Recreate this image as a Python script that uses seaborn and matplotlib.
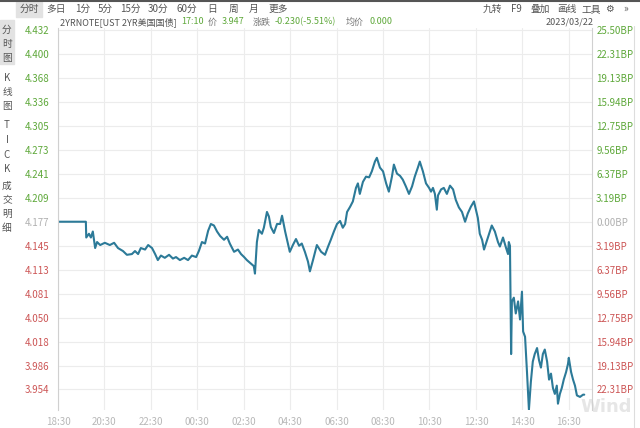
import numpy as np
import pandas as pd
import matplotlib
matplotlib.use("Agg")
import matplotlib.pyplot as plt
import seaborn as sns

# ---------------- data ----------------
times = ["18:30","19:42","19:43","19:50","19:55","20:00","20:06","20:11","20:19","20:31",
         "20:44","20:55","21:05","21:18","21:28","21:41","21:49","21:57","22:04","22:15",
         "22:23","22:33","22:41","22:48","22:56","23:06","23:17","23:27","23:35","23:45",
         "23:56","00:06","00:16","00:27","00:34","00:42","00:50","00:58","01:05","01:13",
         "01:21","01:29","01:39","01:47","01:54","02:05","02:15","02:23","02:31","02:38",
         "02:49","02:56","02:59","03:04","03:09","03:17","03:22","03:30","03:35","03:40",
         "03:48","03:56","04:04","04:09","04:17","04:22","04:29","04:37","04:45","04:53",
         "05:00","05:08","05:16","05:21","05:29","05:39","05:50","06:00","06:08","06:15",
         "06:23","06:31","06:39","06:46","06:52","06:57","07:05","07:12","07:20","07:25",
         "07:30","07:38","07:46","07:54","08:01","08:09","08:14","08:22","08:30","08:38",
         "08:45","08:53","08:58","09:06","09:14","09:21","09:29","09:37","09:45","09:52",
         "10:00","10:05","10:13","10:21","10:29","10:34","10:39","10:44","10:49","10:52",
         "11:00","11:07","11:15","11:23","11:31","11:38","11:46","11:54","12:02","12:09",
         "12:17","12:25","12:30","12:35","12:40","12:46","12:51","12:59","13:06","13:11",
         "13:19","13:27","13:32","13:40","13:48","13:53","13:55","13:58","14:01","14:03",
         "14:08","14:13","14:19","14:24","14:29","14:32","14:37","14:42","14:47","14:52",
         "14:57","15:02","15:08","15:13","15:18","15:23","15:28","15:34","15:39","15:44",
         "15:49","15:54","15:59","16:02","16:07","16:12","16:17","16:23","16:28","16:30",
         "16:36","16:41","16:46","16:51","16:59","17:07","17:10"]
prices = [4.177,4.177,4.156,4.161,4.156,4.164,4.142,4.150,4.146,4.149,
          4.146,4.149,4.142,4.138,4.133,4.134,4.138,4.134,4.142,4.140,
          4.146,4.142,4.134,4.126,4.132,4.129,4.133,4.128,4.130,4.126,
          4.129,4.126,4.132,4.130,4.138,4.150,4.148,4.165,4.174,4.172,
          4.164,4.158,4.153,4.157,4.148,4.137,4.140,4.134,4.130,4.126,
          4.121,4.118,4.108,4.150,4.166,4.161,4.169,4.190,4.184,4.170,
          4.162,4.174,4.174,4.185,4.164,4.153,4.137,4.146,4.154,4.145,
          4.148,4.137,4.124,4.111,4.126,4.146,4.137,4.133,4.144,4.153,
          4.164,4.174,4.178,4.169,4.174,4.190,4.197,4.204,4.222,4.228,
          4.214,4.230,4.237,4.236,4.244,4.257,4.262,4.249,4.244,4.228,
          4.217,4.237,4.253,4.241,4.238,4.233,4.224,4.214,4.224,4.237,
          4.249,4.257,4.244,4.228,4.222,4.217,4.222,4.214,4.193,4.212,
          4.220,4.222,4.214,4.225,4.220,4.206,4.196,4.190,4.177,4.188,
          4.197,4.204,4.193,4.182,4.161,4.153,4.140,4.153,4.164,4.172,
          4.164,4.150,4.144,4.156,4.142,4.134,4.150,4.145,4.001,4.071,
          4.076,4.055,4.071,4.047,4.084,4.031,4.024,3.977,3.927,3.964,
          3.991,4.001,4.009,3.993,3.983,4.001,4.007,3.991,3.967,3.975,
          3.956,3.948,3.959,3.935,3.948,3.956,3.967,3.977,3.988,3.996,
          3.977,3.967,3.959,3.946,3.944,3.947,3.947]

left_ticks = ["4.432","4.400","4.368","4.336","4.305","4.273","4.241","4.209","4.177",
              "4.145","4.113","4.081","4.050","4.018","3.986","3.954"]
right_ticks = ["25.50BP","22.31BP","19.13BP","15.94BP","12.75BP","9.56BP","6.37BP","3.19BP",
               "0.00BP","3.19BP","6.37BP","9.56BP","12.75BP","15.94BP","19.13BP","22.31BP"]
x_labels = ["18:30","20:30","22:30","00:30","02:30","04:30","06:30","08:30",
            "10:30","12:30","14:30","16:30"]
prev_close = 4.177

# ---------------- helpers ----------------
def minutes_from_start(t):
    h, m = map(int, t.split(":"))
    return ((h * 60 + m) - (18 * 60 + 30)) % 1440

df = pd.DataFrame({"t": [minutes_from_start(t) for t in times], "price": prices})
step = (4.432 - prev_close) / 8.0
ytick_vals = [prev_close + step * k for k in range(8, -8, -1)]
xtick_vals = [minutes_from_start(t) for t in x_labels]

sns.set_theme(style="white")
plt.rcParams["font.family"] = ["Noto Sans CJK SC", "DejaVu Sans"]

GREEN = "#5ea83a"
RED = "#cc5555"
GRAY = "#b0b0b0"
LINE = "#2c7a98"

fig = plt.figure(figsize=(6.4, 4.28), dpi=100)
fig.patch.set_facecolor("white")
W, H = 640.0, 428.0
L, R, T, B = 58, 592, 28, 410
ax = fig.add_axes([L / W, 1 - B / H, (R - L) / W, (B - T) / H])
ax.set_facecolor("none")

sns.lineplot(data=df, x="t", y="price", ax=ax, color=LINE, linewidth=1.5,
             estimator=None, sort=False)

ax.set_xlim(0, 1380)
ymax = 4.432 + 2 * 0.00133
ymin = 4.432 - (B - T - 2) * 0.00133
ax.set_ylim(ymin, ymax)

ax.set_yticks(ytick_vals)
ax.set_yticklabels(left_ticks)
ax.set_xticks(xtick_vals)
ax.set_xticklabels(x_labels)
ax.set_xlabel("")
ax.set_ylabel("")
ax.grid(True, color="#ececec", linewidth=0.8)
ax.tick_params(axis="both", length=0, labelsize=7, pad=6)
ax.tick_params(axis="x", colors="#b8b8b8", pad=5)
for lab, v in zip(ax.get_yticklabels(), ytick_vals):
    if abs(v - prev_close) < 1e-6:
        lab.set_color(GRAY)
    elif v > prev_close:
        lab.set_color(GREEN)
    else:
        lab.set_color(RED)

for s in ["top", "bottom"]:
    ax.spines[s].set_visible(False)
for s in ["left", "right"]:
    ax.spines[s].set_color("#d0d0d0")
    ax.spines[s].set_linewidth(0.8)

ax2 = ax.twinx()
ax2.set_ylim(ax.get_ylim())
ax2.set_yticks(ytick_vals)
ax2.set_yticklabels(right_ticks)
ax2.tick_params(axis="y", length=0, labelsize=7, pad=3)
for s in ax2.spines.values():
    s.set_visible(False)
for lab, v in zip(ax2.get_yticklabels(), ytick_vals):
    if abs(v - prev_close) < 1e-6:
        lab.set_color(GRAY)
    elif v > prev_close:
        lab.set_color(GREEN)
    else:
        lab.set_color(RED)

# watermark (faint, behind the chart)
fig.text(606 / W, 1 - 407 / H, "Wind", fontsize=13, color="#e6e6e6", ha="center",
         va="center", family="DejaVu Sans", fontweight="bold", zorder=-5)

# ---------------- header / toolbar ----------------
fig.add_artist(plt.Line2D([0, 1], [1 - 0.5 / H, 1 - 0.5 / H], color="#555555", linewidth=1.5))
fig.patches.append(matplotlib.patches.Rectangle((16 / W, 1 - 17 / H), 26 / W, 15 / H,
                   transform=fig.transFigure, color="#e2e2e2", zorder=0))
fig.patches.append(matplotlib.patches.Rectangle((0, 1 - 64 / H), 14 / W, 44 / H,
                   transform=fig.transFigure, color="#e2e2e2", zorder=0))
menu = [("分时", 29), ("多日", 56), ("1分", 83), ("5分", 105), ("15分", 130), ("30分", 158),
        ("60分", 187), ("日", 212), ("周", 234), ("月", 254), ("更多", 278)]
for txt, x in menu:
    fig.text(x / W, 1 - 9 / H, txt, fontsize=7, color="#555555", ha="center", va="center")
tools = [("九转", 492), ("F9", 516), ("叠加", 540), ("画线", 567), ("工具", 591), ("⚙", 609), ("»", 626)]
for txt, x in tools:
    fig.text(x / W, 1 - 9 / H, txt, fontsize=7, color="#555555", ha="center", va="center",
             family=["Noto Sans CJK SC", "DejaVu Sans"])

y_info = 1 - 22 / H
fs = 6.5
fig.text(60 / W, y_info, "2YRNOTE[UST 2YR美国国债]", fontsize=fs, color="#555555", va="center")
fig.text(181 / W, y_info, "17:10", fontsize=fs, color=GREEN, va="center")
fig.text(208 / W, y_info, "价", fontsize=fs, color="#777777", va="center")
fig.text(222 / W, y_info, "3.947", fontsize=fs, color=GREEN, va="center")
fig.text(253 / W, y_info, "涨跌", fontsize=fs, color="#777777", va="center")
fig.text(275 / W, y_info, "-0.230(-5.51%)", fontsize=fs, color=GREEN, va="center")
fig.text(346 / W, y_info, "均价", fontsize=fs, color="#777777", va="center")
fig.text(369 / W, y_info, "0.000", fontsize=fs, color=GREEN, va="center")
fig.text(570 / W, y_info, "2023/03/22", fontsize=fs, color="#555555", va="center", ha="center")

side = [("分", 30), ("时", 44), ("图", 58), ("K", 78), ("线", 92), ("图", 106),
        ("T", 125), ("I", 140), ("C", 155), ("K", 169), ("成", 186), ("交", 200),
        ("明", 214), ("细", 228)]
for txt, y in side:
    fig.text(7 / W, 1 - y / H, txt, fontsize=7, color="#555555", ha="center", va="center")

fig.add_artist(plt.Line2D([634 / W, 634 / W], [0, 1 - 26 / H], color="#dddddd", linewidth=0.8))

fig.savefig("out.png", dpi=100, facecolor="white")
